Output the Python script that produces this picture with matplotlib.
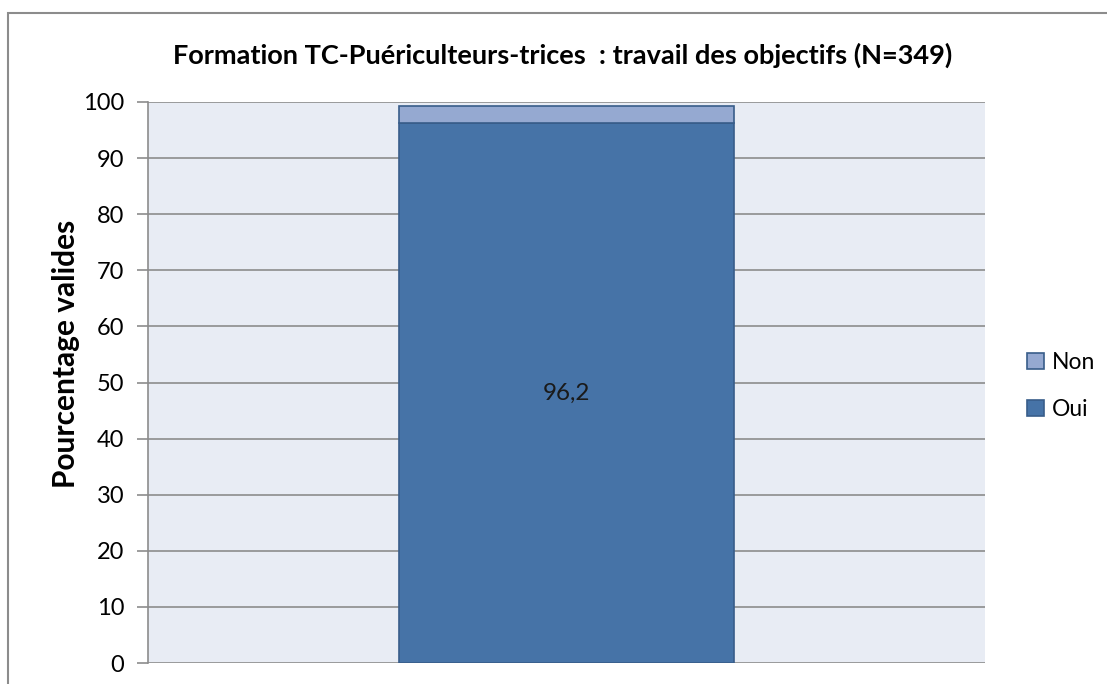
import matplotlib
matplotlib.use("Agg")
import matplotlib.pyplot as plt
from matplotlib.patches import Rectangle

plt.rcParams['font.family'] = ['Lato', 'DejaVu Sans']

categories = [""]
oui = [96.2]
non = [3.0]
series_names = ["Oui", "Non"]
yticks = list(range(0, 101, 10))

fig = plt.figure(figsize=(11.07, 6.84), dpi=100)
fig.patches.append(Rectangle((8/1107, -0.1), 1.2, (684-13)/684 + 0.1, transform=fig.transFigure,
                             fill=False, edgecolor='#8C8C8C', linewidth=1.5))
ax = fig.add_axes([148/1107, 21/684, (985-148)/1107, (663-102)/684])
ax.set_facecolor('#E8ECF4')
x = range(len(categories))
b1 = ax.bar(x, oui, width=0.4, color='#4673A7', edgecolor='#385D8A', linewidth=1.2, label=series_names[0], zorder=3)
b2 = ax.bar(x, non, bottom=oui, width=0.4, color='#95A9D1', edgecolor='#385D8A', linewidth=1.2, label=series_names[1], zorder=3)
ax.text(0, oui[0] / 2, f"{oui[0]:.1f}".replace('.', ','), ha='center', va='center', fontsize=17.5, color='#1a1a1a', zorder=4)
ax.set_xlim(-0.5, 0.5)
ax.set_ylim(0, 100)
ax.set_yticks(yticks)
ax.set_yticklabels([str(t) for t in yticks], fontsize=17)
ax.set_xticks([])
ax.grid(axis='y', color='#8C8C8C', linewidth=1.2, zorder=0)
for s in ['top', 'right', 'bottom']:
    ax.spines[s].set_visible(False)
ax.spines['left'].set_color('#8C8C8C')
ax.spines['left'].set_linewidth(1.2)
ax.tick_params(axis='y', length=8, color='#8C8C8C', width=1.2, pad=9)
ax.set_ylabel("Pourcentage valides", fontsize=21.5, fontweight='bold')
ax.yaxis.set_label_coords((80 - 148) / 837, (663 - 354) / 561)
fig.text(563/1107, 1 - 55/684, "Formation TC-Puériculteurs-trices  : travail des objectifs (N=349)",
         ha='center', va='center', fontsize=19.5, fontweight='bold')
handles = [b2, b1]
leg = fig.legend(handles, ["Non", "Oui"], loc='center left', bbox_to_anchor=(1016/1107, 1 - 386/684),
                 frameon=False, fontsize=16.5, handlelength=0.7, handleheight=0.7, handletextpad=0.35, labelspacing=1.17,
                 borderpad=0)
fig.savefig("out.png", dpi=100)
